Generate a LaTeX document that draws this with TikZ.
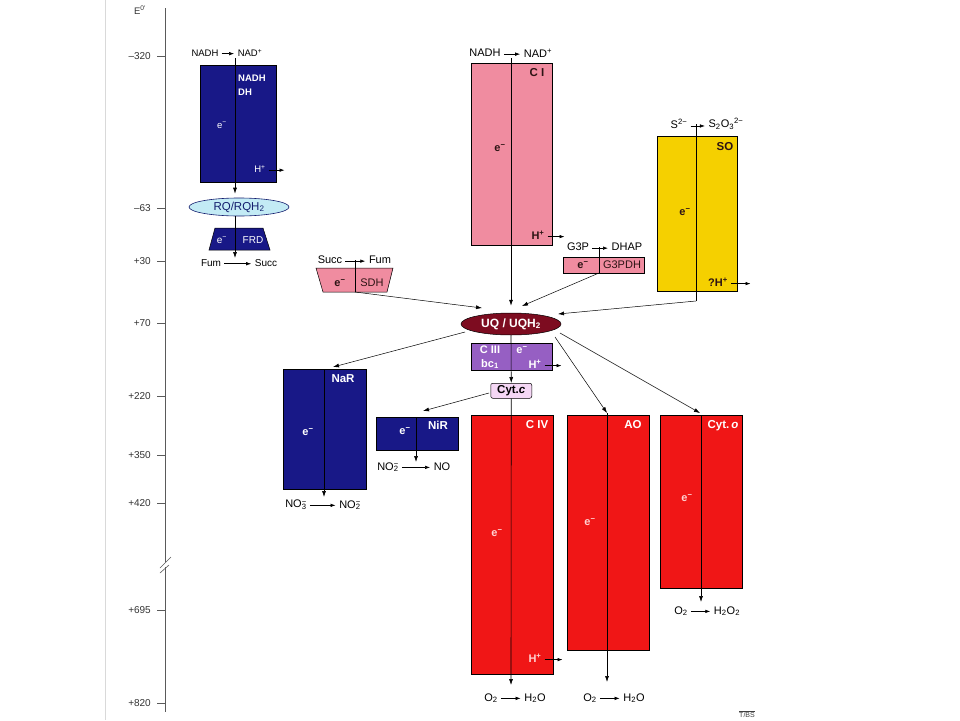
\documentclass[tikz,border=0pt]{standalone}
\usepackage{fontspec}
\setmainfont{Liberation Sans}
\usetikzlibrary{arrows.meta,shapes.geometric}
\definecolor{dblue}{RGB}{24,24,135}
\definecolor{pinkc}{RGB}{240,140,160}
\definecolor{yellowc}{RGB}{245,208,0}
\definecolor{redc}{RGB}{240,22,22}
\definecolor{purplec}{RGB}{150,95,195}
\definecolor{lavc}{RGB}{245,215,245}
\definecolor{maroonc}{RGB}{125,12,32}
\definecolor{cyanc}{RGB}{195,235,245}
\definecolor{navyc}{RGB}{20,30,110}
\definecolor{darkc}{RGB}{45,20,20}
\definecolor{lpink}{RGB}{255,210,210}
\definecolor{axisc}{RGB}{90,90,90}
\newcommand\elec{e\textsuperscript{−}}
\newcommand\subsup[2]{\rlap{\textsubscript{#1}}\textsuperscript{#2}}
\begin{document}
\begin{tikzpicture}[x=1pt,y=-1pt,
  box/.style={draw=black,line width=0.5pt,inner sep=0pt,anchor=north west},
  shp/.style={draw=black,line width=0.5pt},
  ln/.style={line width=0.6pt},
  arr/.style={line width=0.6pt,-{Latex[length=6pt,width=4pt]}},
  rarr/.style={line width=0.6pt,-{Latex[length=5pt,width=3.5pt]},shorten <=3pt,shorten >=3.5pt},
  tx/.style={inner sep=0pt,font=\fontsize{11}{13}\selectfont},
  sx/.style={inner sep=0pt,font=\fontsize{9.5}{11}\selectfont},
  bx/.style={inner sep=0pt,font=\fontsize{11.5}{13}\selectfont\bfseries},
  sbx/.style={inner sep=0pt,font=\fontsize{9.5}{11}\selectfont\bfseries},
  ex/.style={inner sep=0pt,font=\fontsize{11}{13}\selectfont\bfseries},
  ax/.style={inner sep=0pt,font=\fontsize{10}{12}\selectfont,anchor=east,text=black!80},
  axl/.style={draw=axisc,line width=0.6pt}
]
\useasboundingbox[fill=white] (0,0) rectangle (960,720);
% page edge
\draw[black!15,line width=0.8pt] (105,0) -- (105,720);
% axis
\draw[axl] (165,8) -- (165,562);
\draw[axl] (165,567) -- (165,712);
\draw[axl] (160,568) -- (171,557);
\draw[axl] (160,573) -- (169,565);
\node[sx,text=black!80] (e0) at (140,10) {E\textsuperscript{0′}};
\foreach \yy/\lab [count=\i] in {56/–320,208/–63,261/+30,323/+70,396/+220,455/+350,503/+420,610/+695,703/+820}{
  \draw[axl] (157,\yy) -- (165,\yy);
  \node[ax] (tick\i) at (151,\yy) {\lab};
}

% ---------- NADH DH column ----------
\node[box,fill=dblue,minimum width=76pt,minimum height=117pt] (ndh) at (200,65) {};
\node[ellipse,draw=navyc,fill=cyanc,line width=0.6pt,minimum width=100pt,minimum height=18pt,inner sep=0pt,
      text=navyc,font=\fontsize{11.5}{13}\selectfont] (rq) at (239,207) {RQ/RQH\textsubscript{2}};
\filldraw[shp,fill=dblue] (215,228) -- (263,228) -- (270,250) -- (209,250) -- cycle;
\coordinate (ndhT) at (235,58);
\coordinate (frdB) at (235,258);
\draw[arr,shorten >=4pt] (ndhT) -- (ndhT |- rq.north);
\draw[arr] (frdB |- rq.south) -- (frdB);
\node[sx] (ndhA) at (205,53) {NADH};
\node[sx] (ndhB) at (250,53) {NAD\textsuperscript{+}};
\draw[rarr] (ndhA.mid east) -- (ndhA.mid east -| ndhB.west);
\node[sbx,text=white,anchor=west] (ndhL1) at (238,78) {NADH};
\node[sbx,text=white,anchor=west] (ndhL2) at (238,92) {DH};
\node[sx,text=white] (ndhE) at (222,125) {\elec};
\node[sx,text=white] (ndhH) at (260,169) {H\textsuperscript{+}};
\coordinate (ndhHa) at (288,169);
\draw[rarr] (ndhH.mid east) -- (ndhHa |- ndhH.mid east);
\node[sx,text=white,font=\fontsize{10}{12}\selectfont] (frdE) at (222,240) {\elec};
\node[sx,text=white,font=\fontsize{10}{12}\selectfont] (frdL) at (253,240) {FRD};
\node[sx,font=\fontsize{10}{12}\selectfont] (fum1) at (211,263) {Fum};
\node[sx,font=\fontsize{10}{12}\selectfont] (succ1) at (266,263) {Succ};
\draw[rarr] (fum1.mid east) -- (fum1.mid east -| succ1.west);

% ---------- C I ----------
\node[box,fill=pinkc,minimum width=81pt,minimum height=182pt] (ci) at (471,63) {};
\node[tx] (ciA) at (485,53) {NADH};
\node[tx] (ciB) at (538,53) {NAD\textsuperscript{+}};
\draw[rarr] (ciA.mid east) -- (ciA.mid east -| ciB.west);
\node[bx,text=darkc] (ciL) at (537,73) {C I};
\node[ex,text=darkc] (ciE) at (500,148) {\elec};
\node[ex,text=darkc] (ciH) at (538,235) {H\textsuperscript{+}};
\coordinate (ciHa) at (568,235);
\draw[rarr] (ciH.mid east) -- (ciHa |- ciH.mid east);

% ---------- G3PDH ----------
\node[box,fill=pinkc,minimum width=81pt,minimum height=16pt] (g3) at (563,257) {};
\node[tx] (g3A) at (578,247) {G3P};
\node[tx] (g3B) at (627,247) {DHAP};
\draw[rarr] (g3A.mid east) -- (g3A.mid east -| g3B.west);
\node[ex,text=darkc] (g3E) at (583,265) {\elec};
\node[tx,text=darkc] (g3L) at (622,265) {G3PDH};

% ---------- SO ----------
\node[box,fill=yellowc,minimum width=80pt,minimum height=155pt] (so) at (657,136) {};
\node[tx] (soA) at (679,124) {S\textsuperscript{2−}};
\node[tx] (soB) at (726,124) {S\textsubscript{2}O\textsubscript{3}\textsuperscript{2−}};
\draw[rarr] (soA.mid east) -- (soA.mid east -| soB.west);
\node[bx,text=darkc] (soL) at (725,147) {SO};
\node[ex,text=darkc] (soE) at (685,212) {\elec};
\node[ex,text=darkc] (soH) at (718,282) {?H\textsuperscript{+}};
\coordinate (soHa) at (754,282);
\draw[rarr] (soH.mid east) -- (soHa |- soH.mid east);

% ---------- SDH ----------
\filldraw[shp,fill=pinkc] (316,268) -- (393,268) -- (387,292) -- (323,292) -- cycle;
\node[tx] (sdhA) at (330,260) {Succ};
\node[tx] (sdhB) at (380,260) {Fum};
\draw[rarr] (sdhA.mid east) -- (sdhA.mid east -| sdhB.west);
\node[ex,text=darkc] (sdhE) at (340,283) {\elec};
\node[tx,text=darkc] (sdhL) at (372,283) {SDH};

% ---------- UQ pool ----------
\node[ellipse,fill=maroonc,draw=black,line width=0.5pt,minimum width=100pt,minimum height=22pt,inner sep=0pt,
      text=white,font=\fontsize{12}{14}\selectfont\bfseries] (uq) at (511,324) {UQ / UQH\textsubscript{2}};
\coordinate (sT) at (355,260);
\coordinate (sB) at (355,292);
\coordinate (gT) at (599,247);
\coordinate (gB) at (599,273);
\coordinate (soT) at (696,124);
\coordinate (soBot) at (696,301);
\coordinate (ciT) at (511,58);
\coordinate (uqS) at (482,308);
\coordinate (uqG) at (522,306);
\coordinate (uqO) at (558,314);
\draw[ln] (sT) -- (sB);
\draw[arr,line width=0.5pt] (sB) -- (uqS);
\draw[ln] (gT) -- (gB);
\draw[arr,line width=0.5pt] (gB) -- (uqG);
\draw[ln] (soT) -- (soBot);
\draw[arr,line width=0.5pt] (soBot) -- (uqO);
\draw[arr,shorten >=7pt] (ciT) -- (ciT |- uq.north);

% ---------- C III and Cyt c ----------
\node[box,fill=purplec,minimum width=81pt,minimum height=27pt] (c3) at (471,343) {};
\node[box,fill=lavc,rounded corners=2pt,minimum width=41pt,minimum height=15pt] (cytcbox) at (490.5,383) {};
\node[inner sep=0pt,font=\fontsize{11.5}{13}\selectfont\bfseries] (cytc) at (cytcbox.center) {Cyt.\textit{c}};
\node[ex,text=white] (c3L1) at (490,350) {C III};
\node[ex,text=white] (c3L2) at (490,364) {bc\textsubscript{1}};
\node[ex,text=white] (c3E) at (522,350) {\elec};
\node[ex,text=white] (c3H) at (535,364) {H\textsuperscript{+}};
\coordinate (c3Ha) at (565,364);
\draw[rarr] (c3H.mid east) -- (c3Ha |- c3H.mid east);
\draw[arr] (uq.south) -- (cytcbox.north);

% ---------- Terminal boxes ----------
\node[box,fill=dblue,minimum width=83pt,minimum height=120pt] (nar) at (283,369) {};
\node[box,fill=dblue,minimum width=82pt,minimum height=33pt] (nir) at (376,417) {};
\node[box,fill=redc,minimum width=82pt,minimum height=259pt] (c4) at (471,415) {};
\node[box,fill=redc,minimum width=82pt,minimum height=235pt] (ao) at (567,415) {};
\node[box,fill=redc,minimum width=82pt,minimum height=173pt] (cyto) at (660,415) {};

\coordinate (uqL) at (465,332);
\coordinate (narA) at (333,367);
\coordinate (uqR1) at (555,337);
\coordinate (aoT) at (607,413);
\coordinate (uqR2) at (560,333);
\coordinate (cyoT) at (700,413);
\coordinate (ccL) at (489,393);
\coordinate (nirA) at (423,411);
\draw[arr,line width=0.5pt] (uqL) -- (narA);
\draw[arr,line width=0.5pt] (uqR1) -- (aoT);
\draw[arr,line width=0.5pt] (uqR2) -- (cyoT);
\draw[arr,line width=0.5pt] (ccL) -- (nirA);

% NaR
\coordinate (narT) at (324,369);
\coordinate (narB) at (324,497);
\draw[arr] (narT) -- (narB);
\node[bx,text=white] (narL) at (343,379) {NaR};
\node[ex,text=white] (narE) at (308,432) {\elec};
\node[tx] (narP) at (296,505) {NO\subsup{3}{−}};
\node[tx] (narQ) at (350,505) {NO\subsup{2}{−}};
\draw[rarr] (narP.mid east) -- (narP.mid east -| narQ.west);

% NiR
\coordinate (nirT) at (416,417);
\coordinate (nirB) at (416,462);
\draw[arr] (nirT) -- (nirB);
\node[bx,text=white] (nirL) at (438,425) {NiR};
\node[ex,text=white] (nirE) at (405,431) {\elec};
\node[tx] (nirP) at (388,467) {NO\subsup{2}{−}};
\node[tx] (nirQ) at (442,467) {NO};
\draw[rarr] (nirP.mid east) -- (nirP.mid east -| nirQ.west);

% C IV
\coordinate (c4B) at (511,685);
\draw[arr] (cytcbox.south) -- (c4B);
\node[bx,text=white] (c4L) at (537,425) {C IV};
\node[ex,text=lpink] (c4E) at (497,533) {\elec};
\node[ex,text=lpink] (c4H) at (535,658) {H\textsuperscript{+}};
\coordinate (c4Ha) at (566,658);
\draw[rarr] (c4H.mid east) -- (c4Ha |- c4H.mid east);
\node[tx] (c4P) at (491,698) {O\textsubscript{2}};
\node[tx] (c4Q) at (535,698) {H\textsubscript{2}O};
\draw[rarr] (c4P.mid east) -- (c4P.mid east -| c4Q.west);

% AO
\coordinate (aoB) at (607,682);
\draw[arr] (aoT) -- (aoB);
\node[bx,text=white] (aoL) at (633,425) {AO};
\node[ex,text=lpink] (aoE) at (590,522) {\elec};
\node[tx] (aoP) at (590,698) {O\textsubscript{2}};
\node[tx] (aoQ) at (634,698) {H\textsubscript{2}O};
\draw[rarr] (aoP.mid east) -- (aoP.mid east -| aoQ.west);

% Cyt o
\coordinate (cyoT2) at (701,415);
\coordinate (cyoB) at (701,602);
\draw[arr] (cyoT2) -- (cyoB);
\node[bx,text=white] (cyoL) at (723,426) {Cyt.\,\textit{o}};
\node[ex,text=lpink] (cyoE) at (687,498) {\elec};
\node[tx] (cyoP) at (681,611) {O\textsubscript{2}};
\node[tx] (cyoQ) at (727,611) {H\textsubscript{2}O\textsubscript{2}};
\draw[rarr] (cyoP.mid east) -- (cyoP.mid east -| cyoQ.west);

% credit
\node[inner sep=0pt,font=\fontsize{7}{8}\selectfont,text=black!75] (tbs) at (747,715) {T/BS};
\draw[black!75,line width=0.4pt] ([yshift=1.5pt]tbs.north west) -- ([yshift=1.5pt]tbs.north east);
\end{tikzpicture}
\end{document}
